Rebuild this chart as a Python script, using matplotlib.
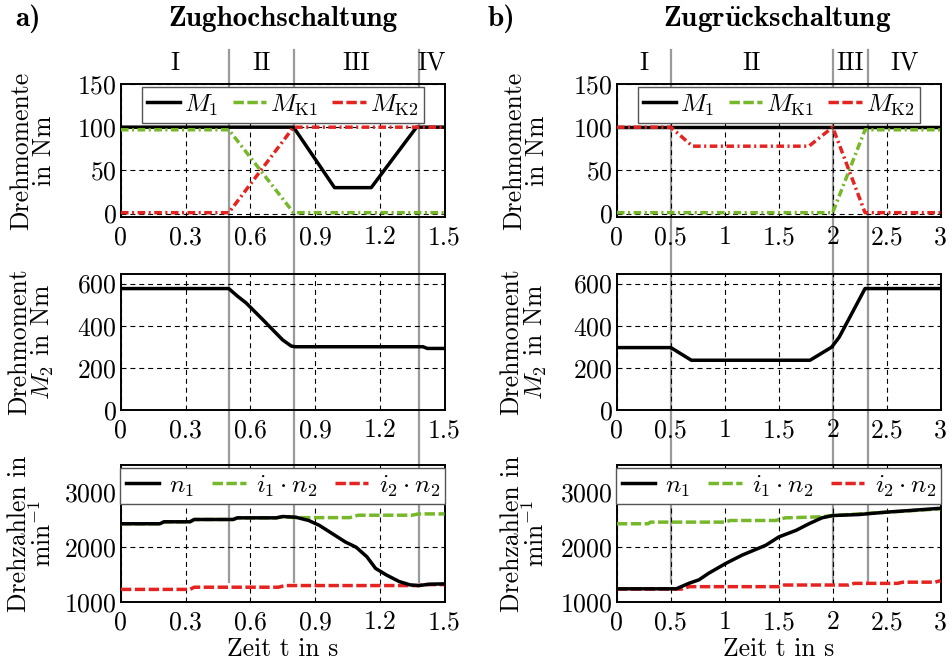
import matplotlib
matplotlib.use("Agg")
from matplotlib import pyplot as plt
from matplotlib.lines import Line2D

plt.rcParams['font.family'] = ['cmr10', 'DejaVu Serif']
plt.rcParams['mathtext.fontset'] = 'cm'
plt.rcParams['axes.formatter.use_mathtext'] = True
plt.rcParams['font.size'] = 18.5

GREEN = '#76b82a'
RED = '#e52421'
GRAY = '#9a9a9a'

# ---------------- a) Zughochschaltung ----------------
t_a_m1 = [0, 0.8, 0.99, 1.16, 1.37, 1.5]
m1_a = [100, 100, 30, 30, 100, 100]
t_a_k = [0, 0.5, 0.8, 1.5]
mk1_a = [97, 97, 1, 1]
mk2_a = [1, 1, 100, 100]

t_a_m2 = [0, 0.50, 0.54, 0.58, 0.66, 0.75, 0.79, 0.81, 1.40, 1.42, 1.5]
m2_a = [576, 576, 540, 508, 426, 332, 303, 300, 300, 292, 292]

t_a_n1 = [0, 0.18, 0.2, 0.32, 0.34, 0.52, 0.54, 0.72, 0.75, 0.81, 0.87, 0.92,
          0.98, 1.04, 1.09, 1.14, 1.18, 1.23, 1.29, 1.34, 1.38, 1.43, 1.5]
n1_a = [2428, 2428, 2464, 2464, 2506, 2506, 2536, 2536, 2560, 2548, 2488, 2398,
        2247, 2096, 2000, 1825, 1614, 1494, 1373, 1313, 1300, 1325, 1331]
t_a_i1 = [0, 0.18, 0.2, 0.32, 0.34, 0.52, 0.54, 0.72, 0.75, 0.81, 1.06, 1.1, 1.35, 1.38, 1.5]
i1n2_a = [2428, 2428, 2464, 2464, 2506, 2506, 2536, 2536, 2556, 2540, 2540, 2584, 2584, 2608, 2608]
t_a_i2 = [0, 0.32, 0.34, 0.73, 0.76, 1.38, 1.41, 1.5]
i2n2_a = [1230, 1230, 1270, 1270, 1300, 1300, 1318, 1318]

# ---------------- b) Zugrückschaltung ----------------
t_b_m1 = [0, 3.0]
m1_b = [100, 100]
t_b_k1 = [0, 2.0, 2.3, 3.0]
mk1_b = [1, 1, 97, 97]
t_b_k2 = [0, 0.5, 0.7, 1.78, 2.0, 2.3, 3.0]
mk2_b = [100, 100, 78, 78, 100, 1, 1]

t_b_m2 = [0, 0.5, 0.69, 1.79, 1.99, 2.06, 2.30, 3.0]
m2_b = [296, 296, 236, 236, 298, 345, 576, 576]

t_b_n1 = [0, 0.55, 0.67, 0.76, 0.85, 1.01, 1.16, 1.38, 1.5, 1.66, 1.78, 1.9,
          2.0, 2.24, 2.49, 2.71, 3.0]
n1_b = [1241, 1241, 1343, 1404, 1524, 1705, 1855, 2036, 2187, 2307, 2428, 2536,
        2578, 2596, 2639, 2669, 2711]
t_b_i1 = [0, 0.29, 0.31, 1.0, 1.05, 1.47, 1.56, 1.78, 1.9, 2.0, 3.0]
i1n2_b = [2428, 2428, 2458, 2458, 2488, 2488, 2536, 2548, 2556, 2578, 2700]
t_b_i2 = [0, 0.6, 0.67, 1.5, 1.55, 2.15, 2.2, 2.6, 2.65, 2.95, 3.0]
i2n2_b = [1236, 1236, 1280, 1280, 1310, 1310, 1340, 1340, 1362, 1362, 1390]

xt_a = [0, 0.3, 0.6, 0.9, 1.2, 1.5]
xl_a = ["0", "0.3", "0.6", "0.9", "1.2", "1.5"]
xt_b = [0, 0.5, 1, 1.5, 2, 2.5, 3]
xl_b = ["0", "0.5", "1", "1.5", "2", "2.5", "3"]

yt_top = [0, 50, 100, 150]
yt_mid = [0, 200, 400, 600]
yt_bot = [1000, 2000, 3000]

phases = ["I", "II", "III", "IV"]
bounds_a = [0.5, 0.8, 1.38]
bounds_b = [0.5, 2.0, 2.33]

DASH = (0, (3, 1))
DASHDOT = (0, (2.2, 1, 0.6, 1))
GRIDLS = (0, (4.5, 3.5))

fig = plt.figure(figsize=(9.52, 6.63), dpi=100)

lefts = [0.127, 0.648]
W = 0.340
rows = [(0.6727, 0.2006), (0.3816, 0.2051), (0.0920, 0.2066)]


def style(ax, xt, xl, yt, ylim, xmax):
    ax.set_facecolor('none')
    ax.set_xlim(0, xmax)
    ax.set_ylim(*ylim)
    ax.set_xticks(xt)
    ax.set_xticklabels(xl)
    ax.set_yticks(yt)
    ax.grid(True, color='black', lw=0.8, linestyle=GRIDLS)
    ax.tick_params(direction='in', length=0)
    ax.tick_params(axis='x', pad=6)
    ax.tick_params(axis='y', pad=3)
    for s in ax.spines.values():
        s.set_linewidth(1.4)


def legend(ax, labels, textpad, spacing):
    h = [Line2D([], [], color='black', lw=2.5),
         Line2D([], [], color=GREEN, lw=2.5, linestyle=DASH),
         Line2D([], [], color=RED, lw=2.5, linestyle=DASH)]
    lg = ax.legend(h, labels, ncol=3, loc='upper center', bbox_to_anchor=(0.5, 1.0),
                   borderaxespad=0.12, fancybox=False, handlelength=1.3,
                   handletextpad=textpad, columnspacing=spacing, borderpad=0.2,
                   fontsize=18.5, framealpha=1)
    lg.get_frame().set_edgecolor('#555555')
    lg.get_frame().set_linewidth(1.0)


panels = [
    (xt_a, xl_a, 1.5, bounds_a,
     (t_a_m1, m1_a, t_a_k, mk1_a, t_a_k, mk2_a),
     (t_a_m2, m2_a),
     (t_a_n1, n1_a, t_a_i1, i1n2_a, t_a_i2, i2n2_a)),
    (xt_b, xl_b, 3.0, bounds_b,
     (t_b_m1, m1_b, t_b_k1, mk1_b, t_b_k2, mk2_b),
     (t_b_m2, m2_b),
     (t_b_n1, n1_b, t_b_i1, i1n2_b, t_b_i2, i2n2_b)),
]

for col, (xt, xl, xmax, bounds, top, mid, bot) in enumerate(panels):
    x0 = lefts[col]
    ax1 = fig.add_axes([x0, rows[0][0], W, rows[0][1]])
    ax2 = fig.add_axes([x0, rows[1][0], W, rows[1][1]])
    ax3 = fig.add_axes([x0, rows[2][0], W, rows[2][1]])

    # top: torques
    style(ax1, xt, xl, yt_top, (-4, 150), xmax)
    ax1.plot(top[2], top[3], color=GREEN, lw=2.5, linestyle=DASHDOT, zorder=3)
    ax1.plot(top[4], top[5], color=RED, lw=2.5, linestyle=DASHDOT, zorder=4)
    ax1.plot(top[0], top[1], color='black', lw=2.5, zorder=2)
    legend(ax1, [r'$M_1$', r'$M_{\rm K1}$', r'$M_{\rm K2}$'], 0.15, 0.55)
    ax1.set_ylabel("Drehmomente\nin Nm", linespacing=0.95)

    # middle: output torque
    style(ax2, xt, xl, yt_mid, (0, 645), xmax)
    ax2.plot(mid[0], mid[1], color='black', lw=2.5, zorder=3)
    ax2.set_ylabel("Drehmoment\n$M_2$ in Nm", linespacing=0.95)

    # bottom: speeds
    style(ax3, xt, xl, yt_bot, (1000, 3500), xmax)
    ax3.plot(bot[2], bot[3], color=GREEN, lw=2.5, linestyle=DASH, zorder=3)
    ax3.plot(bot[4], bot[5], color=RED, lw=2.5, linestyle=DASH, zorder=3)
    ax3.plot(bot[0], bot[1], color='black', lw=2.5, zorder=4)
    legend(ax3, [r'$n_1$', r'$i_1\cdot n_2$', r'$i_2\cdot n_2$'], 0.4, 0.7)
    ax3.set_ylabel("Drehzahlen in\n" + r"$\mathrm{min}^{-1}$", linespacing=0.95)
    ax3.set_xlabel("Zeit t in s", labelpad=2)

    for ax in (ax1, ax2, ax3):
        ax.yaxis.set_label_coords(-0.20 if col == 0 else -0.21, 0.5)

    # phase boundaries across all panels
    inv = fig.transFigure.inverted()
    for b in bounds:
        xf = inv.transform(ax1.transData.transform((b, 0)))[0]
        fig.add_artist(Line2D([xf, xf], [1 - 50 / 663, 1 - 582 / 663],
                              transform=fig.transFigure, color=GRAY, lw=1.6, zorder=-1))
    edges = [0] + bounds + [xmax]
    for i, p in enumerate(phases):
        ax1.text((edges[i] + edges[i + 1]) / 2, 1.16, p, transform=ax1.get_xaxis_transform(),
                 ha='center', va='center', fontsize=18.5)

bold = ['cmb10', 'DejaVu Serif']
fig.text(0.016, 0.972, "a)", fontsize=21, family=bold, va='center')
fig.text(0.297, 0.972, "Zughochschaltung", fontsize=21, family=bold, ha='center', va='center')
fig.text(0.512, 0.972, "b)", fontsize=21, family=bold, va='center')
fig.text(0.816, 0.972, r"$\mathbf{Zugr\ddot{u}ckschaltung}$", fontsize=21,
         ha='center', va='center')

fig.savefig("out.png", dpi=100)
